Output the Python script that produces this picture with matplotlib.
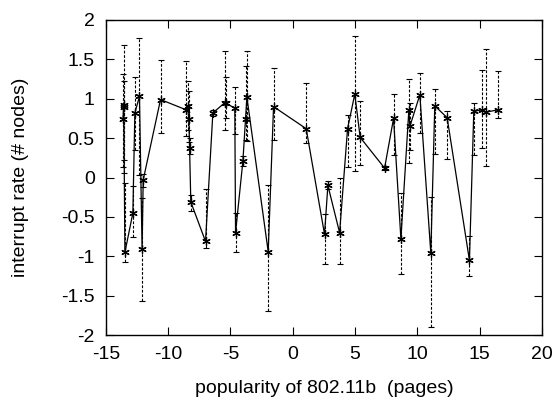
import matplotlib
matplotlib.use("Agg")
import matplotlib.pyplot as plt
import numpy as np

plt.rcParams['font.family'] = ['Liberation Sans', 'DejaVu Sans']

x = [-13.62, -13.58, -13.56, -13.47, -12.83, -12.67, -12.30, -12.09, -12.00, -10.61,
     -8.56, -8.44, -8.34, -8.28, -8.18, -7.00, -6.41, -5.45, -5.33, -4.65,
     -4.59, -4.00, -3.79, -3.68, -1.97, -1.54, 1.08, 2.55, 2.82, 3.76,
     4.40, 4.98, 5.41, 7.37, 8.09, 8.68, 9.32, 9.40, 10.20, 11.08,
     11.40, 12.39, 14.18, 14.53, 15.20, 15.52, 16.48]
y = [0.74, 0.92, 0.90, -0.95, -0.45, 0.82, 1.03, -0.91, -0.03, 0.99,
     0.86, 0.91, 0.74, 0.38, -0.31, -0.81, 0.82, 0.95, 0.94, 0.88,
     -0.70, 0.21, 0.74, 1.02, -0.94, 0.90, 0.62, -0.72, -0.10, -0.70,
     0.62, 1.06, 0.51, 0.12, 0.75, -0.78, 0.86, 0.65, 1.05, -0.96,
     0.91, 0.76, -1.05, 0.84, 0.86, 0.83, 0.86]
y_low = [0.14, 0.06, 0.22, -1.07, -0.75, 0.35, 0.03, -1.57, -0.12, 0.56,
         0.53, 0.60, 0.45, 0.30, -0.42, -0.89, 0.78, 0.60, 0.75, 0.55,
         -0.95, 0.15, 0.48, 0.46, -1.69, 0.48, 0.44, -1.10, -0.15, -1.10,
         0.14, 0.08, 0.16, 0.09, 0.28, -1.23, 0.19, 0.35, 0.57, -1.90,
         0.30, 0.24, -1.25, 0.28, 0.38, 0.15, 0.76]
y_high = [1.32, 1.68, 1.22, -0.07, -0.11, 1.28, 1.77, -0.26, 0.05, 1.49,
          1.48, 1.23, 1.10, 0.50, -0.22, -0.14, 0.86, 1.61, 1.28, 1.15,
          -0.45, 0.27, 1.41, 1.61, -0.09, 1.39, 1.20, -0.46, -0.05, 0.00,
          0.79, 1.79, 0.97, 0.15, 1.06, -0.20, 1.25, 0.95, 1.33, -0.25,
          1.13, 0.84, -0.74, 0.94, 1.37, 1.63, 1.35]

xa = np.array(x); ya = np.array(y)
yerr = np.vstack([ya - np.array(y_low), np.array(y_high) - ya])

fig = plt.figure(figsize=(5.57, 3.99), dpi=100)
ax = fig.add_axes([0.190, 0.16, 0.783, 0.79])

eb = ax.errorbar(xa, ya, yerr=yerr, fmt='none', ecolor='black', elinewidth=0.8,
                 capsize=2, capthick=0.8, zorder=2)
eb[2][0].set_linestyle((0, (2.5, 1.5)))
ax.plot(xa, ya, color='black', linewidth=0.9, marker=(6, 2, 0), markersize=6,
        markeredgewidth=0.9, zorder=3)

ax.set_xlim(-15, 20)
ax.set_ylim(-2, 2)
ax.set_xticks([-15, -10, -5, 0, 5, 10, 15, 20])
ax.set_yticks([-2, -1.5, -1, -0.5, 0, 0.5, 1, 1.5, 2])
ax.set_yticklabels(['-2', '-1.5', '-1', '-0.5', '0', '0.5', '1', '1.5', '2'])
ax.set_xticklabels(['-15', '-10', '-5', '0', '5', '10', '15', '20'])
ax.tick_params(direction='in', length=6, width=0.8, top=True, right=True,
               labelsize=14)
ax.tick_params(axis='x', pad=8)
ax.tick_params(axis='y', pad=8)
for s in ax.spines.values():
    s.set_linewidth(1.0)

ax.set_xlabel('popularity of 802.11b  (pages)', fontsize=14, labelpad=12)
ax.set_ylabel('interrupt rate (# nodes)', fontsize=14, labelpad=23)

fig.savefig('out.png', dpi=100)
